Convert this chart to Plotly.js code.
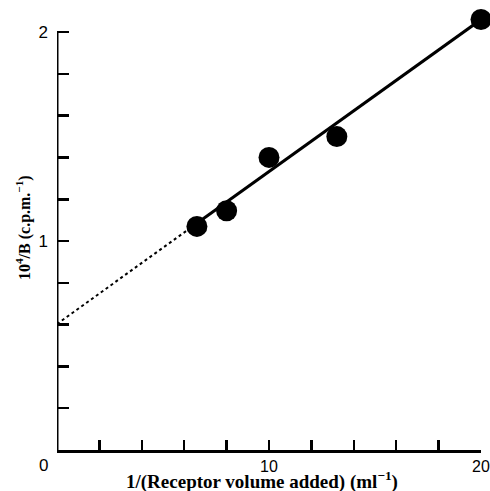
<!DOCTYPE html>
<html>
<head>
<meta charset="utf-8">
<script src="https://cdn.plot.ly/plotly-3.0.1.min.js"></script>
<style>html,body{margin:0;padding:0;background:#fff}#chart{width:490px;height:491px}</style>
</head>
<body>
<div id="chart"></div>
<script>
// Data
const xPoints = [6.6, 8.0, 10.0, 13.2, 20.0];
const yPoints = [1.07, 1.145, 1.40, 1.50, 2.06];
const fitSolidX = [6.6, 20.0];
const fitSolidY = [1.085, 2.06];
const fitDotX = [0, 6.6];
const fitDotY = [0.603, 1.085];
const xTickVals = [10, 20];
const xTickText = ['10', '20'];
const yTickVals = [1, 2];
const yTickText = ['1', '2'];

const serif = 'Liberation Serif, Times New Roman, serif';
const sans = 'Liberation Sans, Arial, sans-serif';

const W = 490, H = 491, ML = 57, MR = 9, MT = 7, MB = 41;
const px2paperX = p => (p - ML) / (W - ML - MR);
const px2paperY = p => (H - MB - p) / (H - MT - MB);

const traces = [
  {x: fitDotX, y: fitDotY, mode: 'lines', line: {color: '#000', width: 2, dash: 'dot'}, cliponaxis: false, hoverinfo: 'skip'},
  {x: fitSolidX, y: fitSolidY, mode: 'lines', line: {color: '#000', width: 3}, cliponaxis: false, hoverinfo: 'skip'},
  {x: xPoints, y: yPoints, mode: 'markers', marker: {color: '#000', size: 21}, cliponaxis: false}
];

const layout = {
  width: W, height: H,
  margin: {l: ML, r: MR, t: MT, b: MB},
  paper_bgcolor: '#fff', plot_bgcolor: '#fff',
  showlegend: false,
  xaxis: {
    range: [0, 20], showgrid: false, zeroline: false,
    showline: true, linecolor: '#000', linewidth: 3,
    ticks: 'inside', ticklen: 10, tickwidth: 2.5, tickcolor: '#000',
    tickmode: 'array', tickvals: xTickVals, ticktext: xTickText,
    minor: {ticks: 'inside', tick0: 0, dtick: 2, ticklen: 10, tickwidth: 2.5, tickcolor: '#000', showgrid: false},
    ticklabelstandoff: 0,
    ticklabeloverflow: 'allow',
    tickfont: {family: sans, size: 16, color: '#000'}
  },
  yaxis: {
    range: [0, 2.12], showgrid: false, zeroline: false,
    showline: false,
    ticks: 'inside', ticklen: 12, tickwidth: 2.5, tickcolor: '#000',
    tickmode: 'array', tickvals: yTickVals, ticktext: yTickText,
    minor: {ticks: 'inside', tick0: 0, dtick: 0.2, ticklen: 12, tickwidth: 2.5, tickcolor: '#000', showgrid: false},
    ticklabelstandoff: 8,
    ticklabeloverflow: 'allow',
    tickfont: {family: sans, size: 17, color: '#000'}
  },
  shapes: [
    {type: 'line', xref: 'x', yref: 'y', x0: 0, x1: 0, y0: 0, y1: 2, line: {color: '#000', width: 3}, layer: 'above'}
  ],
  annotations: [
    {x: px2paperX(43), y: px2paperY(466), xref: 'paper', yref: 'paper', text: '0', showarrow: false,
     xanchor: 'center', yanchor: 'middle',
     font: {family: sans, size: 17, color: '#000'}},
    {x: px2paperX(23), y: px2paperY(228), xref: 'paper', yref: 'paper', text: '<b>10<sup>4</sup>/B (c.p.m.<sup>−1</sup>)</b>',
     showarrow: false, textangle: -90, xanchor: 'center', yanchor: 'middle',
     font: {family: serif, size: 16, color: '#000'}},
    {x: px2paperX(262), y: px2paperY(480), xref: 'paper', yref: 'paper', text: '<b>1/(Receptor volume added) (ml<sup>−1</sup>)</b>',
     showarrow: false, xanchor: 'center', yanchor: 'middle',
     font: {family: serif, size: 19, color: '#000'}}
  ]
};

Plotly.newPlot('chart', traces, layout, {displayModeBar: false, staticPlot: true});
</script>
</body>
</html>
